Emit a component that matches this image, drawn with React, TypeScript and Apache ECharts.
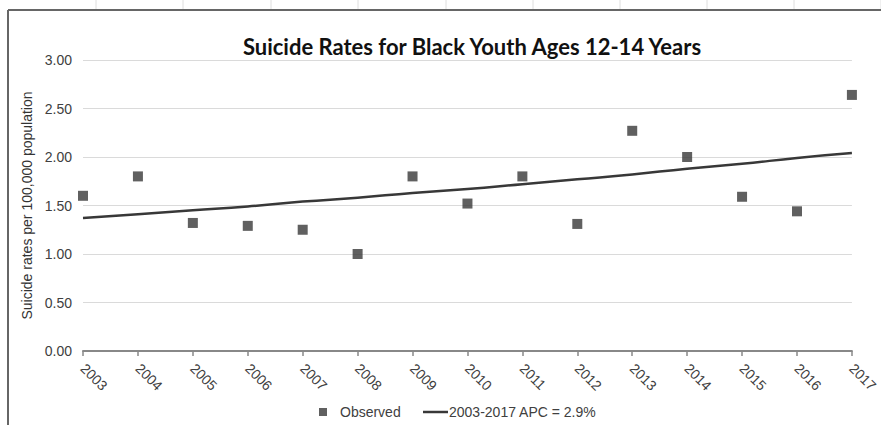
import React, { useEffect, useRef } from "react";
import * as echarts from "echarts";

const years = ["2003","2004","2005","2006","2007","2008","2009","2010","2011","2012","2013","2014","2015","2016","2017"];
const observed = [1.60, 1.80, 1.32, 1.29, 1.25, 1.00, 1.80, 1.52, 1.80, 1.31, 2.27, 2.00, 1.59, 1.44, 2.64];
const trend = [1.37, 1.41, 1.45, 1.49, 1.54, 1.58, 1.63, 1.67, 1.72, 1.77, 1.82, 1.88, 1.93, 1.99, 2.04];
const seriesNames = ["Observed", "2003-2017 APC = 2.9%"];
const titleText = "Suicide Rates for Black Youth Ages 12-14 Years";
const yAxisName = "Suicide rates per 100,000 population";
const sheetColumnMarks = [96, 183, 271, 358, 446, 533, 620, 707, 794, 881];

export default function App() {
  const ref = useRef<HTMLDivElement>(null);
  useEffect(() => {
    if (!ref.current) return;
    const chart = echarts.init(ref.current, null, { renderer: "svg" });
    const font = "'Liberation Sans', Arial, sans-serif";
    const dark = "#383838";
    chart.setOption({
      animation: false,
      backgroundColor: "#ffffff",
      title: {
        text: titleText,
        left: 467,
        textAlign: "center",
        top: 30,
        textStyle: { fontFamily: "Lato, 'Open Sans', sans-serif", fontWeight: "bold", fontSize: 22, color: "#111" },
      },
      grid: { left: 83, right: 24, top: 60, bottom: 74 },
      xAxis: {
        type: "category",
        data: years,
        boundaryGap: false,
        axisLine: { lineStyle: { color: "#888", width: 2 } },
        axisTick: { show: true, length: 5, lineStyle: { color: "#888", width: 1.5 } },
        axisLabel: { rotate: -45, margin: 15, color: "#404040", fontSize: 14, fontFamily: font },
        splitLine: { show: false },
      },
      yAxis: {
        type: "value",
        min: 0,
        max: 3,
        interval: 0.5,
        name: yAxisName,
        nameLocation: "middle",
        nameGap: 48,
        nameTextStyle: { color: "#333", fontSize: 14, fontFamily: font },
        axisLine: { show: false },
        axisTick: { show: false },
        axisLabel: { formatter: (v: number) => v.toFixed(2), color: "#404040", fontSize: 14, fontFamily: font, margin: 11 },
        splitLine: { lineStyle: { color: "#dadada", width: 1 } },
      },
      legend: [
        {
          data: [seriesNames[0]],
          left: 314,
          top: 400,
          icon: "rect",
          itemWidth: 8,
          itemHeight: 8,
          textStyle: { color: "#404040", fontSize: 14, fontFamily: font, padding: [0, 0, 0, 8] },
        },
        {
          data: [seriesNames[1]],
          left: 418,
          top: 400,
          icon: "rect",
          itemWidth: 25,
          itemHeight: 2.5,
          itemGap: 0,
          textStyle: { color: "#404040", fontSize: 14, fontFamily: font, padding: [0, 0, 0, -4] },
        },
      ],
      graphic: [
        { type: "line", shape: { x1: 8, y1: 10, x2: 881, y2: 10 }, style: { stroke: "#666", lineWidth: 2 } },
        { type: "line", shape: { x1: 8, y1: 10, x2: 8, y2: 425 }, style: { stroke: "#666", lineWidth: 2 } },
        ...sheetColumnMarks.map((x) => ({
          type: "line",
          shape: { x1: x, y1: 0, x2: x, y2: 9 },
          style: { stroke: "#dedede", lineWidth: 1 },
        })),
      ],
      series: [
        {
          name: seriesNames[0],
          type: "scatter",
          data: observed,
          symbol: "rect",
          symbolSize: 10,
          itemStyle: { color: dark },
          z: 3,
        },
        {
          name: seriesNames[1],
          type: "line",
          data: trend,
          symbol: "none",
          smooth: true,
          lineStyle: { color: dark, width: 2.5 },
          itemStyle: { color: dark },
          z: 2,
        },
      ],
    });
    return () => chart.dispose();
  }, []);
  return <div ref={ref} style={{ position: "fixed", left: 0, top: 0, width: 881, height: 425 }} />;
}
